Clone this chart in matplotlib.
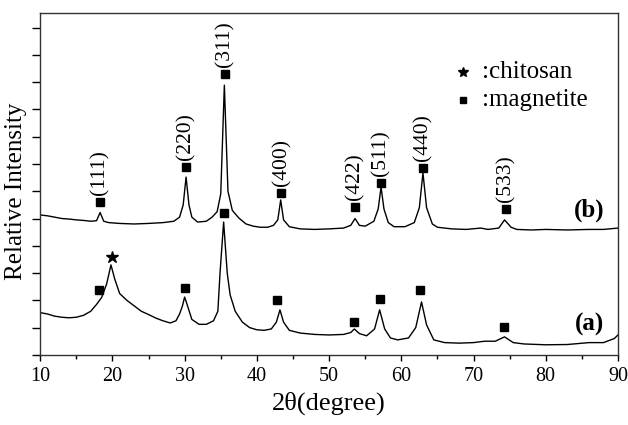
import matplotlib
matplotlib.use("Agg")
import matplotlib.pyplot as plt
from matplotlib.ticker import MultipleLocator
import numpy as np

plt.rcParams['font.family'] = ['Liberation Serif', 'DejaVu Serif']

# trace (b): 2theta, relative intensity (offset)
b_x = [10, 11, 12, 13, 14, 15, 16, 17, 17.8, 18.3, 18.8, 19.5, 21, 23, 25, 27,
       28.5, 29.3, 29.8, 30.2, 30.6, 31.0, 31.8, 33, 33.8, 34.5, 35.0, 35.5,
       36.0, 36.6, 37.5, 38.5, 39.5, 40.5, 41.5, 42.3, 42.9, 43.3, 43.7, 44.5,
       46, 48, 50, 52, 53.0, 53.6, 54.2, 55, 56.2, 56.8, 57.2, 57.6, 58.2, 59,
       60.5, 61.8, 62.5, 63.0, 63.5, 64.3, 65, 67, 69, 71, 72, 73.5, 74.3, 75.2,
       76, 78, 80, 83, 86, 88, 90]
b_y = [5.13, 5.1, 5.05, 5.0, 4.98, 4.95, 4.93, 4.9, 4.92, 5.22, 4.9, 4.85, 4.82,
       4.8, 4.82, 4.85, 4.9, 5.05, 5.5, 6.52, 5.5, 5.05, 4.87, 4.9, 5.05, 5.25,
       5.9, 9.89, 6.0, 5.3, 5.02, 4.8, 4.72, 4.68, 4.68, 4.75, 4.95, 5.68, 4.95,
       4.7, 4.62, 4.6, 4.62, 4.65, 4.75, 5.0, 4.75, 4.72, 4.9, 5.35, 6.15, 5.35,
       4.85, 4.7, 4.7, 4.85, 5.4, 6.67, 5.4, 4.8, 4.68, 4.62, 4.6, 4.65, 4.6,
       4.65, 4.95, 4.68, 4.6, 4.58, 4.6, 4.58, 4.6, 4.6, 4.65]

# trace (a)
a_x = [10, 11, 12, 13, 14, 15, 16, 17, 17.8, 18.5, 19.2, 19.8, 20.3, 21, 22, 23,
       24, 25, 26, 27, 28, 28.8, 29.3, 29.7, 30.0, 30.4, 31, 32, 33, 34, 34.6,
       34.9, 35.4, 35.9, 36.3, 37, 38, 39, 40, 41, 42, 42.7, 43.2, 43.7, 44.5,
       46, 48, 50, 52, 53.0, 53.5, 54.2, 55.2, 56.3, 57.0, 57.7, 58.5, 59.5, 61,
       62, 62.8, 63.5, 64.5, 66, 68, 70, 71.5, 73, 74.3, 75.5, 77, 80, 83, 86,
       88, 89.5, 90]
a_y = [1.55, 1.5, 1.42, 1.38, 1.36, 1.38, 1.45, 1.6, 1.85, 2.1, 2.6, 3.3, 2.8,
       2.25, 2.0, 1.8, 1.6, 1.48, 1.35, 1.25, 1.17, 1.25, 1.5, 1.8, 2.12, 1.8,
       1.3, 1.12, 1.12, 1.25, 1.6, 3.0, 4.87, 3.0, 2.2, 1.6, 1.2, 1.0, 0.92,
       0.9, 0.95, 1.2, 1.65, 1.2, 0.9, 0.8, 0.75, 0.73, 0.75, 0.82, 0.95, 0.78,
       0.7, 0.95, 1.65, 0.95, 0.62, 0.55, 0.62, 1.0, 1.94, 1.1, 0.55, 0.45,
       0.43, 0.45, 0.5, 0.5, 0.66, 0.45, 0.4, 0.37, 0.38, 0.45, 0.45, 0.6, 0.73]

# magnetite reflections on (b)
hkl = ["(111)", "(220)", "(311)", "(400)", "(422)", "(511)", "(440)", "(533)"]
b_sq_x = [18.3, 30.2, 35.6, 43.4, 53.6, 57.2, 63.0, 74.5]
b_sq_y = [5.6, 6.9, 10.3, 5.95, 5.42, 6.3, 6.85, 5.35]

# markers on (a)
a_sq_x = [18.2, 30.0, 35.5, 42.8, 53.5, 57.0, 62.6, 74.2]
a_sq_y = [2.38, 2.45, 5.2, 2.0, 1.2, 2.05, 2.38, 1.03]
a_star = (19.9, 3.6)

fig = plt.figure(figsize=(6.28, 4.25), dpi=100)
ax = fig.add_axes([0.064, 0.165, 0.92, 0.804])

ax.plot(b_x, b_y, color='black', lw=1.0)
ax.plot(a_x, a_y, color='black', lw=1.0)

ax.plot(b_sq_x, b_sq_y, 's', color='black', ms=5.5, ls='none')
ax.plot(a_sq_x, a_sq_y, 's', color='black', ms=5.5, ls='none')
ax.plot(*a_star, '*', color='black', ms=9)

for lab, x, y in zip(hkl, b_sq_x, b_sq_y):
    ax.annotate(lab, (x, y), xytext=(0, 5), textcoords='offset points',
                rotation=90, ha='center', va='bottom', fontsize=15.5)

# legend drawn by hand
ax.plot(68.5, 10.37, '*', color='black', ms=7)
ax.text(71.2, 10.37, ':chitosan', fontsize=18, va='center', ha='left')
ax.plot(68.5, 9.34, 's', color='black', ms=4.5)
ax.text(71.2, 9.34, ':magnetite', fontsize=18, va='center', ha='left')

ax.text(86.0, 5.3, '(b)', fontsize=18, fontweight='bold', ha='center', va='center')
ax.text(86.0, 1.1, '(a)', fontsize=18, fontweight='bold', ha='center', va='center')

ax.set_xlim(10, 90)
ax.set_ylim(0, 12.53)
ax.xaxis.set_major_locator(MultipleLocator(10))
ax.xaxis.set_minor_locator(MultipleLocator(5))
ax.yaxis.set_major_locator(MultipleLocator(1))
ax.set_yticklabels([])
ax.tick_params(axis='x', which='major', direction='out', length=4, width=1,
               labelsize=14.5, pad=5)
ax.tick_params(axis='x', which='minor', direction='out', length=3, width=1)
ax.tick_params(axis='y', direction='out', length=6, width=1)
for s in ax.spines.values():
    s.set_linewidth(1.0)
    s.set_color('#333333')

ax.set_xlabel('2θ(degree)', fontsize=19, labelpad=4)
ax.set_ylabel('Relative Intensity', fontsize=18)
ax.yaxis.set_label_coords(-0.022, 0.48)

fig.savefig('out.png', dpi=100)
